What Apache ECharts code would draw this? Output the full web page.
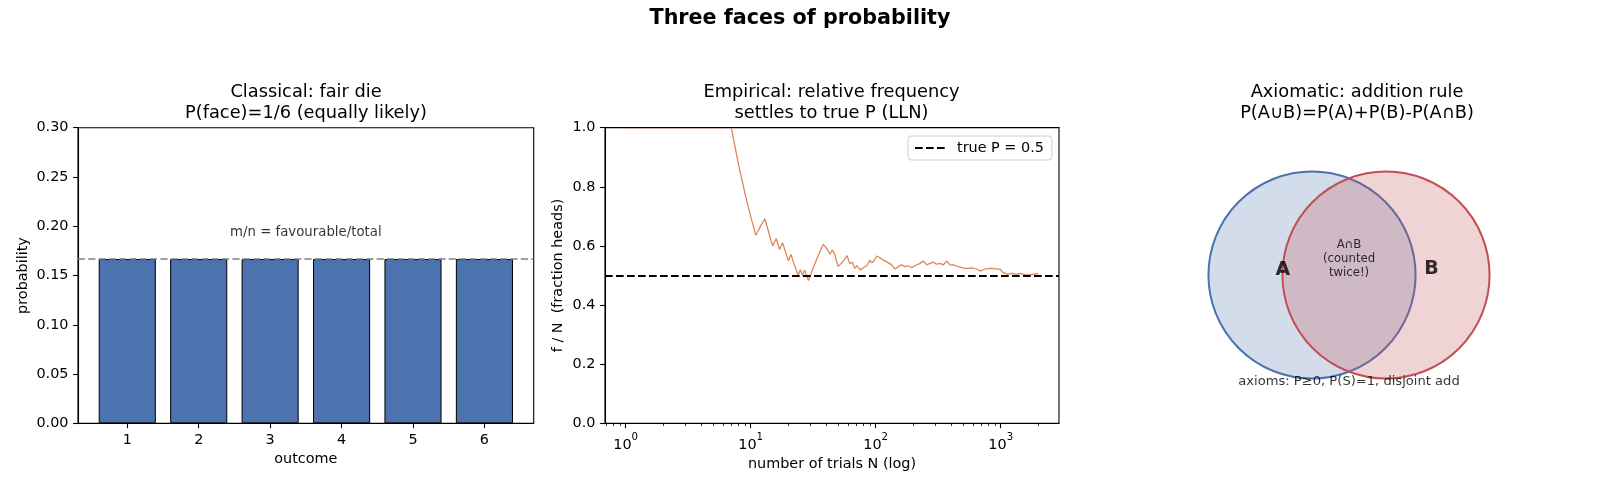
<!DOCTYPE html>
<html>
<head>
<meta charset="utf-8">
<script src="https://cdn.jsdelivr.net/npm/echarts@6/dist/echarts.min.js"></script>
<style>
html,body{margin:0;padding:0;background:#fff;}
#main{width:1600px;height:491px;}
</style>
</head>
<body>
<div id="main"></div>
<script>
// ---------- data ----------
const suptitle = 'Three faces of probability';

// Panel 1: classical
const outcomes = [1, 2, 3, 4, 5, 6];
const faceProb = [0.16667, 0.16667, 0.16667, 0.16667, 0.16667, 0.16667];
const equalLikelyLine = 0.16667;
const classicalNote = 'm/n = favourable/total';
const classicalNotePos = [3.5, 0.194];

// Panel 2: empirical (running fraction of heads)
const trialN = [1,2,3,4,5,6,7,8,9,10,11,12,13,14,15,16,17,18,19,20,21,22,23,24,25,26,27,28,29,30,
  31,32,33,34,35,36,37,38,40,42,43,45,47,50,53,56,59,62,65,68,71,75,77,80,85,90,93,97,102,108,
  115,122,126,134,143,152,161,172,182,194,206,226,240,256,272,289,307,327,347,370,393,417,431,472,
  518,551,586,604,643,683,700,749,819,847,929,1000,1019,1117,1150,1225,1343,1427,1500,1564,1715,1850,2000];
const fracHeads = [1,1,1,1,1,1,1,0.875,0.778,0.700,0.636,0.667,0.692,0.643,0.600,0.625,0.588,0.611,0.579,0.550,
  0.571,0.545,0.522,0.500,0.520,0.500,0.519,0.500,0.483,0.500,
  0.516,0.531,0.545,0.559,0.571,0.583,0.595,0.605,0.595,0.581,0.572,0.586,0.572,0.530,0.541,0.553,0.567,0.541,0.545,0.524,0.533,0.519,0.516,0.527,0.533,0.552,0.543,0.550,0.566,0.560,
  0.552,0.547,0.552,0.536,0.522,0.530,0.536,0.530,0.533,0.526,0.533,0.541,0.549,0.536,0.541,0.545,0.538,0.541,0.536,0.549,0.536,0.536,0.530,0.528,
  0.524,0.524,0.526,0.530,0.522,0.515,0.513,0.522,0.524,0.524,0.522,0.521,0.513,0.504,0.507,0.507,0.504,0.507,0.505,0.502,0.502,0.505,0.506];
const trueP = 0.5;
const logMajorTicks = [1, 10, 100, 1000];
const logMinorTicks = [0.7,0.8,0.9,2,3,4,5,6,7,8,9,20,30,40,50,60,70,80,90,200,300,400,500,600,700,800,900,2000];

// Panel 3: axiomatic (Venn)
const vennSets = ['A', 'B'];
const vennCx = [0.35, 0.65];
const vennCy = [0.5, 0.5];
const vennR = [0.42, 0.42];
const vennLabelX = [0.232, 0.835];
const vennLabelY = [0.52, 0.524];
const interText = 'A∩B\n(counted\ntwice!)';
const interPos = [0.5, 0.565];
const axiomsText = 'axioms: P≥0, P(S)=1, disjoint add';
const axiomsPos = [0.5, 0.067];

// ---------- chart ----------
const FONT = 'DejaVu Sans';
const TXT = '#000';
const chart = echarts.init(document.getElementById('main'), null, {renderer: 'canvas'});

const titleStyle = {fontFamily: FONT, fontSize: 17.8, fontWeight: 'normal', color: TXT, lineHeight: 20.6};
const axisLineStyle = {show: true, lineStyle: {color: '#000', width: 1.1}};
const tickStyle = {show: true, length: 4.9, lineStyle: {color: '#000', width: 1.1}};
const labelStyle = {color: TXT, fontFamily: FONT, fontSize: 14.4};
const nameStyle = {color: TXT, fontFamily: FONT, fontSize: 14.4};

const option = {
  backgroundColor: '#fff',
  animation: false,
  title: [
    {text: suptitle, left: 800, top: 8.5, textAlign: 'center', padding: 0,
     textStyle: {fontFamily: FONT, fontSize: 20.7, fontWeight: 'bold', color: '#000'}},
    {text: 'Classical: fair die\nP(face)=1/6 (equally likely)', left: 306, top: 82, textAlign: 'center', padding: 0, textStyle: titleStyle},
    {text: 'Empirical: relative frequency\nsettles to true P (LLN)', left: 831.5, top: 82, textAlign: 'center', padding: 0, textStyle: titleStyle},
    {text: 'Axiomatic: addition rule\nP(A∪B)=P(A)+P(B)-P(A∩B)', left: 1357, top: 82, textAlign: 'center', padding: 0, textStyle: titleStyle}
  ],
  legend: {
    data: ['true P = 0.5'],
    left: 908, top: 136,
    padding: [5, 8, 5, 6],
    itemWidth: 30, itemHeight: 14,
    backgroundColor: 'rgba(255,255,255,0.8)',
    borderColor: '#cccccc', borderWidth: 1, borderRadius: 3,
    itemStyle: {opacity: 0},
    textStyle: {fontFamily: FONT, fontSize: 14.4, color: TXT, padding: [0, 0, 0, 7]}
  },
  grid: [
    {left: 78, top: 127.7, width: 455.7, height: 295.6, show: true, borderColor: '#000', borderWidth: 1.1, backgroundColor: 'transparent', outerBoundsMode: 'none', containLabel: false},
    {left: 605, top: 127.7, width: 454, height: 295.6, show: true, borderColor: '#000', borderWidth: 1.1, backgroundColor: 'transparent', outerBoundsMode: 'none', containLabel: false},
    {left: 1225.7, top: 151.7, width: 246.6, height: 246.6, show: false, outerBoundsMode: 'none', containLabel: false}
  ],
  xAxis: [
    {gridIndex: 0, type: 'value', min: 0.31, max: 6.69,
     name: 'outcome', nameLocation: 'middle', nameGap: 29, nameTextStyle: nameStyle,
     axisLine: axisLineStyle,
     axisTick: Object.assign({}, tickStyle, {customValues: outcomes}),
     axisLabel: Object.assign({}, labelStyle, {margin: 10, customValues: outcomes, formatter: v => String(Math.round(v))}),
     splitLine: {show: false}},
    {gridIndex: 1, type: 'log', logBase: 10, min: 0.684, max: 2924,
     name: 'number of trials N (log)', nameLocation: 'middle', nameGap: 32, nameTextStyle: nameStyle,
     axisLine: axisLineStyle,
     axisTick: Object.assign({}, tickStyle, {customValues: logMajorTicks}),
     axisLabel: Object.assign({}, labelStyle, {margin: 9, customValues: logMajorTicks,
       formatter: v => '{b|10}{s|' + Math.round(Math.log10(v)) + '}',
       rich: {
         b: {fontFamily: FONT, fontSize: 14.4, color: TXT, lineHeight: 20, verticalAlign: 'bottom'},
         s: {fontFamily: FONT, fontSize: 10.2, color: TXT, lineHeight: 20, verticalAlign: 'top'}
       }}),
     splitLine: {show: false}},
    {gridIndex: 1, type: 'log', logBase: 10, min: 0.684, max: 2924, position: 'bottom',
     axisLine: {show: false},
     axisTick: {show: true, length: 2.8, lineStyle: {color: '#000', width: 0.8}, customValues: logMinorTicks},
     axisLabel: {show: false}, splitLine: {show: false}},
    {gridIndex: 1, type: 'log', logBase: 10, min: 0.684, max: 2924, position: 'top', z: 10,
     axisLine: {show: true, lineStyle: {color: '#000', width: 1.1}},
     axisTick: {show: false}, axisLabel: {show: false}, splitLine: {show: false}},
    {gridIndex: 2, type: 'value', min: 0, max: 1, show: false}
  ],
  yAxis: [
    {gridIndex: 0, type: 'value', min: 0, max: 0.3, interval: 0.05,
     name: 'probability', nameLocation: 'middle', nameGap: 48, nameTextStyle: nameStyle,
     axisLine: axisLineStyle, axisTick: tickStyle,
     axisLabel: Object.assign({}, labelStyle, {margin: 9.5, formatter: v => v.toFixed(2)}),
     splitLine: {show: false}},
    {gridIndex: 1, type: 'value', min: 0, max: 1, interval: 0.2,
     name: 'f / N  (fraction heads)', nameLocation: 'middle', nameGap: 40, nameTextStyle: nameStyle,
     axisLine: axisLineStyle, axisTick: tickStyle,
     axisLabel: Object.assign({}, labelStyle, {margin: 9.5, formatter: v => v.toFixed(1)}),
     splitLine: {show: false}},
    {gridIndex: 2, type: 'value', min: 0, max: 1, show: false}
  ],
  series: [
    {
      type: 'bar', xAxisIndex: 0, yAxisIndex: 0, barWidth: 57.1,
      data: outcomes.map((o, i) => [o, faceProb[i]]),
      itemStyle: {color: '#4C72B0', borderColor: '#000', borderWidth: 1},
      z: 2
    },
    {
      type: 'scatter', xAxisIndex: 0, yAxisIndex: 0, symbolSize: 0, silent: true,
      data: [classicalNotePos],
      label: {show: true, position: 'inside', formatter: classicalNote,
              fontFamily: FONT, fontSize: 13.3, color: TXT},
      markLine: {
        silent: true, symbol: 'none', label: {show: false}, precision: 6,
        lineStyle: {color: '#808080', type: [7, 3.3], width: 1.7},
        data: [{yAxis: equalLikelyLine}]
      },
      z: 4
    },
    {
      name: 'f/N', type: 'line', xAxisIndex: 1, yAxisIndex: 1, symbol: 'none', showSymbol: false,
      data: trialN.map((n, i) => [n, fracHeads[i]]),
      lineStyle: {color: '#DD8452', width: 1.25}, itemStyle: {color: '#DD8452'},
      clip: true, z: 3
    },
    {
      name: 'true P = 0.5', type: 'line', xAxisIndex: 1, yAxisIndex: 1, symbol: 'none',
      data: [],
      lineStyle: {color: '#000', type: [7.7, 3.3], width: 2},
      itemStyle: {color: '#000'},
      markLine: {
        silent: true, symbol: 'none', label: {show: false}, precision: 6,
        lineStyle: {color: '#000', type: [7.7, 3.3], width: 2},
        data: [{yAxis: trueP}]
      },
      z: 4
    },
    {
      type: 'custom', xAxisIndex: 4, yAxisIndex: 2, silent: true,
      data: vennSets.map((s, i) => [vennCx[i], vennCy[i], vennR[i], i]),
      renderItem: function (params, api) {
        const c = api.coord([api.value(0), api.value(1)]);
        const r = api.size([api.value(2), 0])[0];
        const i = api.value(3);
        const fills = ['rgba(76,114,176,0.25)', 'rgba(196,78,82,0.25)'];
        const strokes = ['#4C72B0', '#C44E52'];
        return {type: 'circle', shape: {cx: c[0], cy: c[1], r: r},
                style: {fill: fills[i], stroke: strokes[i], lineWidth: 2}};
      },
      z: 2
    },
    {
      type: 'scatter', xAxisIndex: 4, yAxisIndex: 2, symbolSize: 0, silent: true,
      data: vennSets.map((s, i) => ({value: [vennLabelX[i], vennLabelY[i]], name: s})),
      label: {show: true, position: 'inside', formatter: p => p.name,
              fontFamily: FONT, fontSize: 19, fontWeight: 'bold', color: '#000'},
      z: 5
    },
    {
      type: 'scatter', xAxisIndex: 4, yAxisIndex: 2, symbolSize: 0, silent: true,
      data: [
        {value: interPos, name: interText, label: {fontSize: 11.7, lineHeight: 13.6}},
        {value: axiomsPos, name: axiomsText, label: {fontSize: 13.1}}
      ],
      label: {show: true, position: 'inside', formatter: p => p.name, align: 'center',
              fontFamily: FONT, color: TXT},
      z: 5
    }
  ]
};
chart.setOption(option);
</script>
</body>
</html>
